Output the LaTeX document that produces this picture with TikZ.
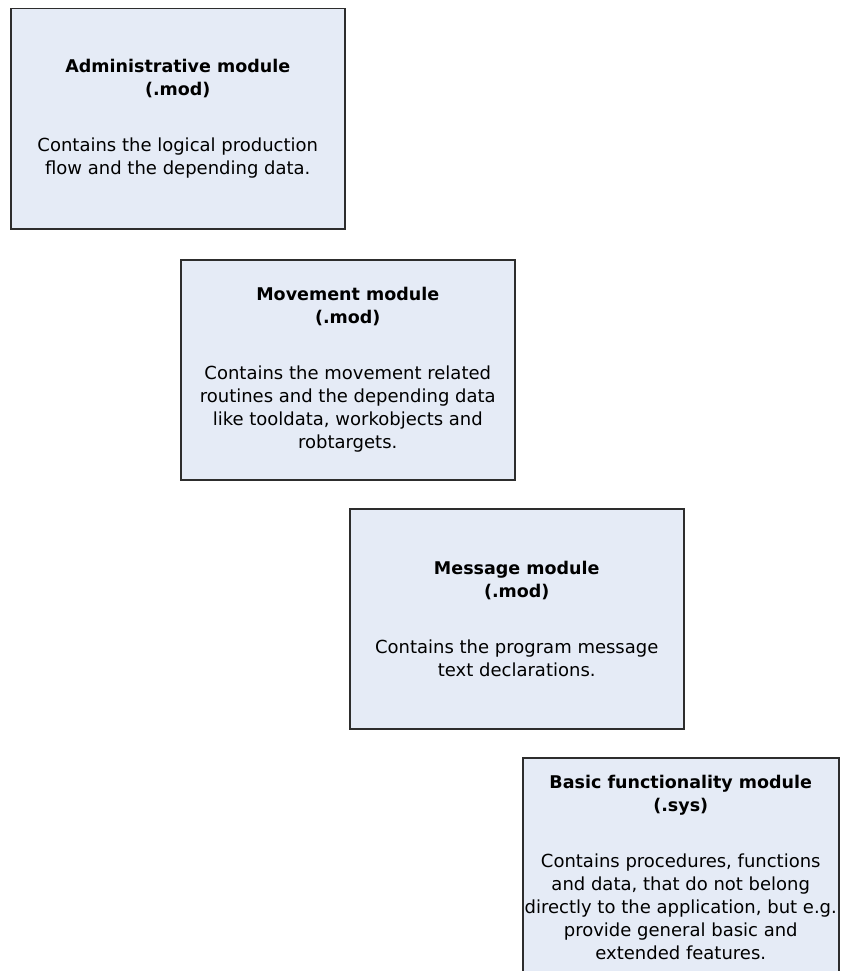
\documentclass[tikz,border=0pt]{standalone}
\usepackage{fontspec}
\setmainfont{DejaVu Sans}
\usetikzlibrary{positioning}

\definecolor{boxfill}{RGB}{229,235,246}
\definecolor{boxline}{RGB}{45,45,45}

\def \boxW {334pt}
\def \boxH {220pt}

\tikzset{
  modulebox/.style={draw=boxline, line width=1.5pt, fill=boxfill,
    minimum width=\boxW, minimum height=\boxH, inner sep=0pt,
    align=center, anchor=north west,
    font=\fontsize{18}{23}\selectfont}
}

\newcommand{\ttl}[1]{\textbf{\fontsize{17.5}{22}\selectfont #1}}

\begin{document}
\begin{tikzpicture}[x=1pt, y=-1pt]
      \useasboundingbox (0,0) rectangle (840,971);
      \fill[white] (0,0) rectangle (840,971);
      \node[modulebox] (admin) at (10,8) {\ttl{Administrative module}\\\ttl{(.mod)}\\[33pt]Contains the logical production\\flow and the depending data.};
      \node[modulebox] (movement) at (180,259) {\ttl{Movement module}\\\ttl{(.mod)}\\[33pt]Contains the movement related\\routines and the depending data\\like tooldata, workobjects and\\robtargets.};
      \node[modulebox] (message) at (349,508) {\ttl{Message module}\\\ttl{(.mod)}\\[33pt]Contains the program message\\text declarations.};
      \node[modulebox, minimum width=316pt] (basic) at (522,757) {\ttl{Basic functionality module}\\\ttl{(.sys)}\\[33pt]Contains procedures, functions\\and data, that do not belong\\directly to the application, but e.g.\\provide general basic and\\extended features.};
   \end{tikzpicture}
\end{document}
